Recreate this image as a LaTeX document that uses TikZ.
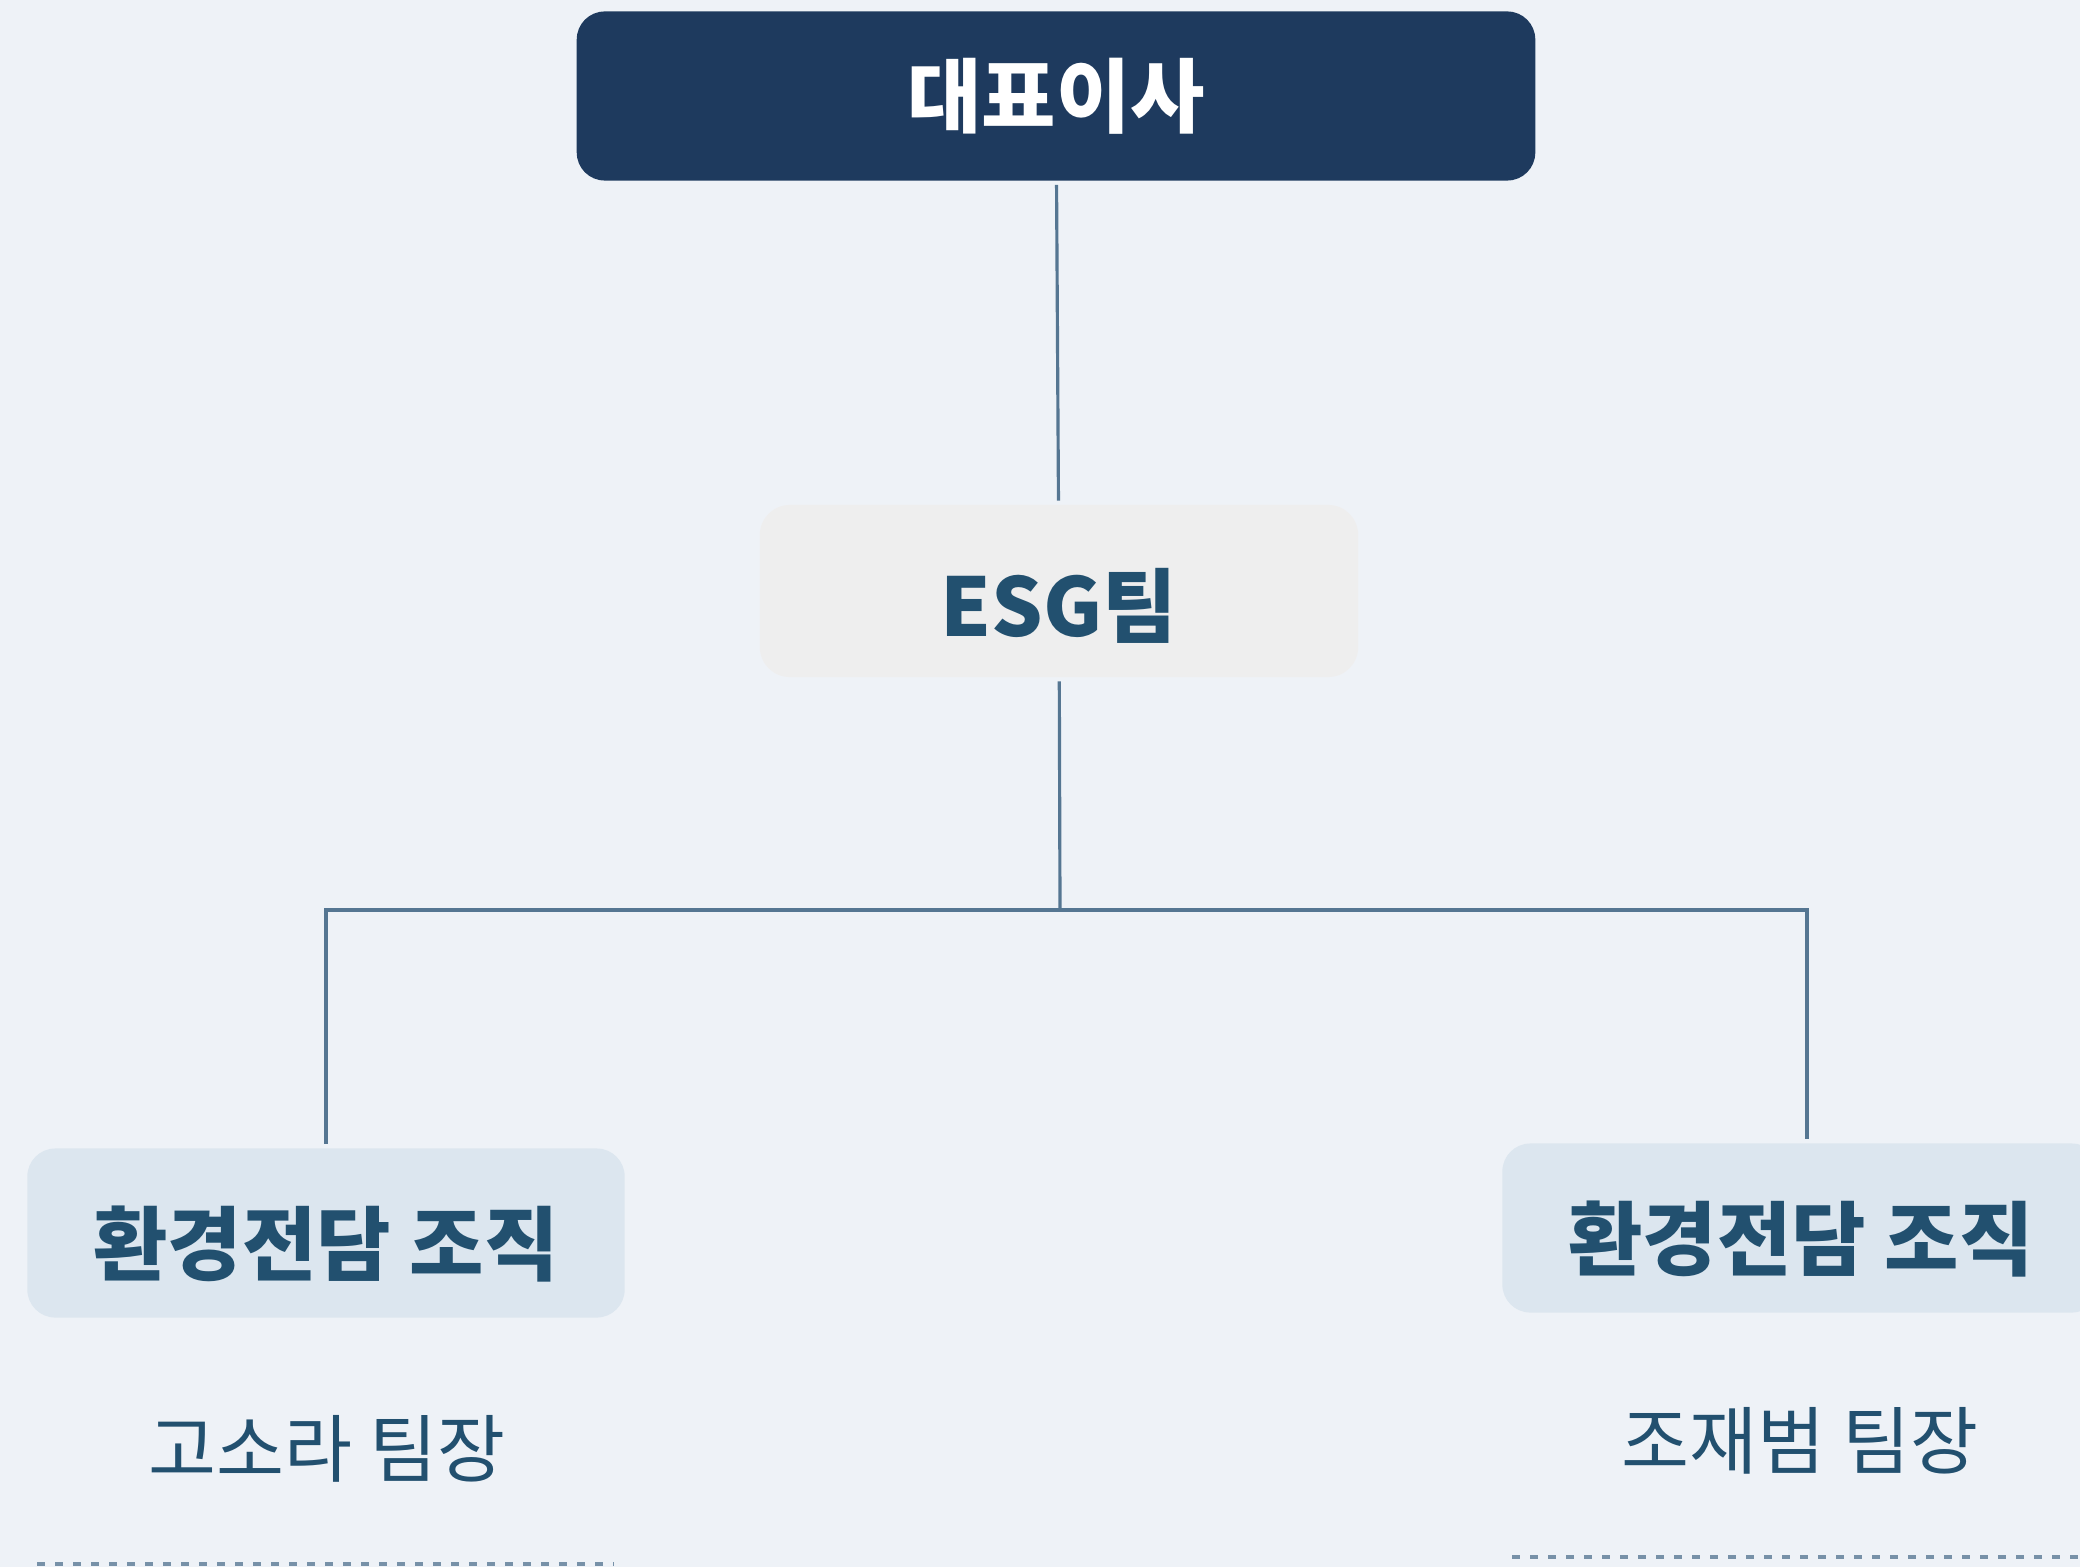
\documentclass[tikz,border=0pt]{standalone}
\usepackage{fontspec}
\setmainfont{Noto Sans CJK KR}
\usepackage{tikz}
\usetikzlibrary{positioning}
\definecolor{bgc}{HTML}{EEF2F7}
\definecolor{navy}{HTML}{1E3A5E}
\definecolor{ink}{HTML}{22506F}
\definecolor{wire}{HTML}{557692}
\definecolor{greybox}{HTML}{EEEEEE}
\definecolor{bluebox}{HTML}{DCE6EF}
\tikzstyle{head} = [
rectangle,
rounded corners=0.28cm,
minimum width=9.58cm,
minimum height=1.69cm,
fill=navy,
text=white,
font=\fontsize{23}{27}\selectfont\bfseries
]
\tikzstyle{team} = [
rectangle,
rounded corners=0.3cm,
minimum width=5.98cm,
minimum height=1.72cm,
fill=greybox,
text=ink,
text height=0.9cm, text depth=0cm,
font=\fontsize{23}{27}\selectfont\bfseries
]
\tikzstyle{unit} = [
rectangle,
rounded corners=0.28cm,
minimum width=5.97cm,
minimum height=1.69cm,
fill=bluebox,
text=ink,
text height=0.82cm, text depth=0cm,
font=\fontsize{23}{27}\selectfont\bfseries
]
\tikzstyle{lead} = [text=ink, font=\fontsize{21}{25}\selectfont]
\tikzstyle{wire} = [draw=wire, line width=0.9pt]
\tikzstyle{sep} = [draw=wire!80, line width=0.9pt, dash pattern=on 0.08cm off 0.1cm]

\begin{document}
\begin{tikzpicture}[x=0.01cm, y=-0.01cm]
      \fill[bgc] (0,0) rectangle (2080,1567);
      \useasboundingbox (0,0) rectangle (2080,1567);
      \node (ceo) [head] at (1056,96) {대표이사};
      \node (esg) [team] at (1059,591) {ESG팀};
      \node (envl) [unit] at (326,1233) {환경전담 조직};
      \node (envr) [unit] at (1801,1228) {환경전담 조직};
      \node (leadl) [lead] at (327,1449) {고소라 팀장};
      \node (leadr) [lead] at (1800,1441) {조재범 팀장};
      \coordinate (bus) at (1060,910);
      \coordinate (busr) at (1807,910);
      \draw [wire, shorten <=1pt, shorten >=1pt] (ceo) -- (esg);
      \draw [wire, shorten <=1pt] (esg) -- (bus);
      \draw [wire, shorten >=1pt] (bus) -- (envl.north |- bus) -- (envl);
      \draw [wire, shorten >=1pt] (bus) -- (busr) -- (busr |- envr.north);
      % dotted rules under the names
      \draw [sep] (37,1564) -- (614,1564);
      \draw [sep] (1512,1557) -- (2080,1557);
\end{tikzpicture}
\end{document}
